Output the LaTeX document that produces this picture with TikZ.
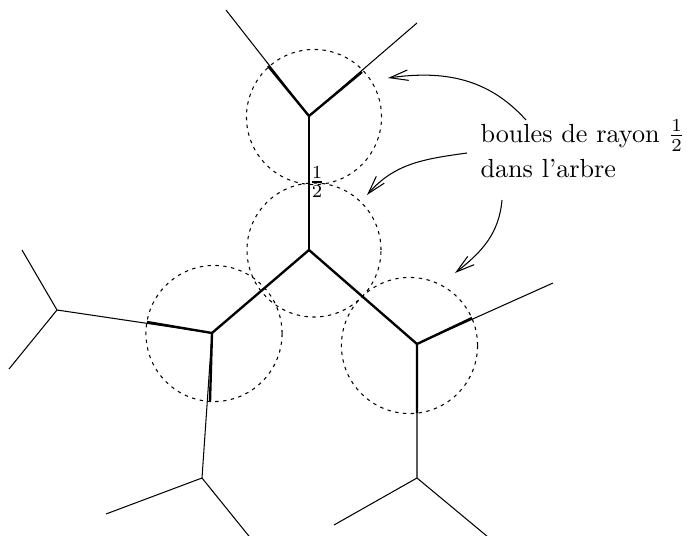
\documentclass[tikz,border=0pt]{standalone}
\usetikzlibrary{arrows.meta}
\begin{document}
\begin{tikzpicture}[x=0.382pt,y=-0.382pt,
  thin edge/.style={line width=0.4pt},
  thick edge/.style={line width=0.9pt},
  ball/.style={line width=0.4pt,dash pattern=on 1.3pt off 1.7pt},
  pointer/.style={line width=0.4pt,-{Straight Barb[length=7pt,width=4pt]}},
  lab/.style={anchor=base west,inner sep=0pt}]
\useasboundingbox (0,0) rectangle (687,536);
\clip (0,0) rectangle (687,536);
% vertices
\coordinate (T) at (309,116);
\coordinate (C) at (309,250);
\coordinate (L) at (212,333);
\coordinate (R) at (417,344);
\coordinate (LL) at (57,310);
\coordinate (LD) at (202,478);
\coordinate (RD) at (417,478);
% leaves
\coordinate (TLe) at (226,10);
\coordinate (TRe) at (417,23);
\coordinate (LLa) at (22,250);
\coordinate (LLb) at (9,369);
\coordinate (LDa) at (106,514);
\coordinate (LDb) at (265,556);
\coordinate (Re) at (553,283);
\coordinate (RDa) at (334,525);
\coordinate (RDb) at (494,542);
% ends of the thick parts
\coordinate (t1) at (268,66);
\coordinate (t2) at (362,72);
\coordinate (l1) at (147,322);
\coordinate (l2) at (210,402);
\coordinate (r1) at (472,318);
\coordinate (r2) at (417,413);
% thin tree
\draw[thin edge] (T) -- (TLe) (T) -- (TRe);
\draw[thin edge] (L) -- (LL) (LL) -- (LLa) (LL) -- (LLb);
\draw[thin edge] (L) -- (LD) (LD) -- (LDa) (LD) -- (LDb);
\draw[thin edge] (R) -- (Re) (R) -- (RD) (RD) -- (RDa) (RD) -- (RDb);
% thick parts
\draw[thick edge] (t1) -- (T) -- (t2);
\draw[thick edge] (T) -- (C);
\draw[thick edge] (L) -- (C) -- (R);
\draw[thick edge] (l1) -- (L) -- (l2);
\draw[thick edge] (r1) -- (R) -- (r2);
% balls
\draw[ball] (314,117) circle[radius=25.8pt];
\draw[ball] (314,250) circle[radius=25.6pt];
\draw[ball] (214,333.5) circle[radius=26pt];
\draw[ball] (409.5,345.5) circle[radius=26pt];
% labels
\node[inner sep=0pt] (half) at (317,182) {$\frac12$};
\node[lab] (lab1) at (480,142) {boules de rayon $\frac12$};
\node[lab] (lab2) at (480,177) {dans l'arbre};
% pointers
\coordinate (a1) at (526,120);
\coordinate (b1) at (388,78);
\coordinate (a2) at (467,153);
\coordinate (b2) at (367,195);
\coordinate (a3) at (502,200);
\coordinate (b3) at (455,273);
\draw[pointer] (a1) to[out=132,in=8] (b1);
\draw[pointer] (a2) to[out=188,in=49] (b2);
\draw[pointer] (a3) to[out=265,in=38] (b3);
\end{tikzpicture}
\end{document}
